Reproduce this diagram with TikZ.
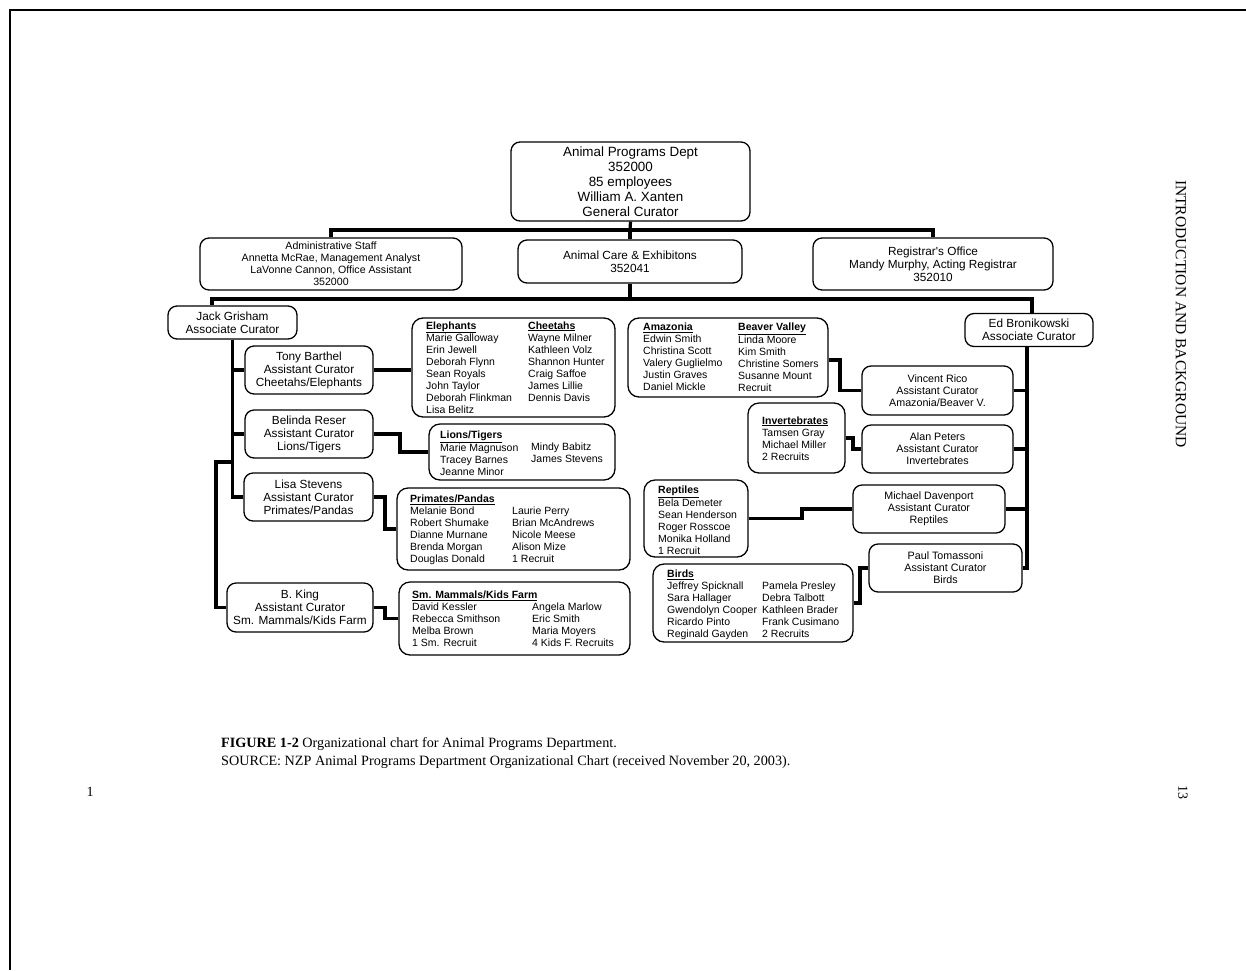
\documentclass[tikz,border=0pt]{standalone}
\usepackage{fontspec}
\setmainfont{Liberation Serif}
\newfontfamily\arialfont{Liberation Sans}
\newcommand{\teamfont}{\arialfont\fontsize{10.5}{12}\selectfont}
\newcommand{\hd}[1]{\underline{\textbf{#1}}}
\newcommand{\tcol}[1]{\begin{tabular}[t]{@{}l@{}}#1\end{tabular}}
\tikzset{
  orgbox/.style={draw, fill=white, line width=1.3pt, rounded corners=9pt, inner sep=0pt, align=center},
  teambox/.style={draw, fill=white, line width=1.3pt, rounded corners=11pt, inner sep=0pt},
  teamtext/.style={anchor=base west, inner sep=0pt, font=\teamfont},
  conn/.style={line width=3.2pt},
  fbig/.style={font=\arialfont\fontsize{13.4}{15}\selectfont},
  fmid/.style={font=\arialfont\fontsize{11.8}{13}\selectfont},
  fsml/.style={font=\arialfont\fontsize{10.7}{12}\selectfont},
}
\begin{document}
\begin{tikzpicture}[x=1pt,y=-1pt]
\useasboundingbox (0,0) rectangle (1246,970);
\fill[white] (0,0) rectangle (1246,970);
\draw[line width=2.5pt] (10,970) -- (10,10) -- (1246,10);

% coordinates for connector joints
\coordinate (j1) at (630,230);
\coordinate (j2) at (630,299);
\coordinate (kb) at (216,462);
\coordinate (lj) at (400,440);
\coordinate (pj) at (385,510);
\coordinate (mj) at (385,612);
\coordinate (aj) at (840,370);
\coordinate (ij) at (853,443);
\coordinate (rj) at (802,513);
\coordinate (bj) at (860,585);

% top levels
\node[orgbox, fbig, minimum width=239pt, minimum height=79pt] (top) at (630.5,181.5)
  {Animal Programs Dept\\352000\\85 employees\\William A. Xanten\\General Curator};
\node[orgbox, font=\arialfont\fontsize{10.6}{12}\selectfont, minimum width=262pt, minimum height=52pt] (admin) at (331,264)
  {Administrative Staff\\Annetta McRae, Management Analyst\\LaVonne Cannon, Office Assistant\\352000};
\node[orgbox, fmid, minimum width=224pt, minimum height=43pt] (care) at (630,261.5)
  {Animal Care \& Exhibitons\\352041};
\node[orgbox, fmid, minimum width=240pt, minimum height=52pt] (reg) at (933,264)
  {Registrar's Office\\Mandy Murphy, Acting Registrar\\352010};

% associate curators
\node[orgbox, fmid, minimum width=129pt, minimum height=33pt] (jack) at (232.5,322.5)
  {Jack Grisham\\Associate Curator};
\node[orgbox, fmid, minimum width=128pt, minimum height=33pt] (ed) at (1029,330)
  {Ed Bronikowski\\Associate Curator};

% assistant curators (left)
\node[orgbox, fmid, minimum width=128pt, minimum height=48pt] (tony) at (309,370)
  {Tony Barthel\\Assistant Curator\\Cheetahs/Elephants};
\node[orgbox, fmid, minimum width=128pt, minimum height=48pt] (bel) at (309,434)
  {Belinda Reser\\Assistant Curator\\Lions/Tigers};
\node[orgbox, fmid, minimum width=129pt, minimum height=48pt] (lisa) at (308.5,497)
  {Lisa Stevens\\Assistant Curator\\Primates/Pandas};
\node[orgbox, fmid, minimum width=146pt, minimum height=49pt] (king) at (300,607.5)
  {B. King\\Assistant Curator\\Sm. Mammals/Kids Farm};

% assistant curators (right)
\node[orgbox, fsml, minimum width=151pt, minimum height=49pt] (vin) at (937.5,390.5)
  {Vincent Rico\\Assistant Curator\\Amazonia/Beaver V.};
\node[orgbox, fsml, minimum width=151pt, minimum height=48pt] (alan) at (937.5,449)
  {Alan Peters\\Assistant Curator\\Invertebrates};
\node[orgbox, fsml, minimum width=152pt, minimum height=48pt] (mike) at (929,509)
  {Michael Davenport\\Assistant Curator\\Reptiles};
\node[orgbox, fsml, minimum width=153pt, minimum height=48pt] (paul) at (945.5,568)
  {Paul Tomassoni\\Assistant Curator\\Birds};

% team boxes
\node[teambox, minimum width=203pt, minimum height=99pt] (ele) at (513.5,367.5) {};
\node[teambox, minimum width=186pt, minimum height=56pt] (lions) at (522,452) {};
\node[teambox, minimum width=233pt, minimum height=82pt] (prim) at (513.5,529) {};
\node[teambox, minimum width=231pt, minimum height=73pt] (mam) at (514.5,618.5) {};
\node[teambox, minimum width=200pt, minimum height=79pt] (amaz) at (728,357.5) {};
\node[teambox, minimum width=97pt, minimum height=70pt] (inv) at (796.5,438) {};
\node[teambox, minimum width=104pt, minimum height=77pt] (rep) at (696,518.5) {};
\node[teambox, minimum width=200pt, minimum height=78pt] (birds) at (753,603) {};

% team texts
\node[teamtext] (ele-l) at (426,329) {\tcol{\hd{Elephants}\\Marie Galloway\\Erin Jewell\\Deborah Flynn\\Sean Royals\\John Taylor\\Deborah Flinkman\\Lisa Belitz}};
\node[teamtext] (ele-r) at (528,329) {\tcol{\hd{Cheetahs}\\Wayne Milner\\Kathleen Volz\\Shannon Hunter\\Craig Saffoe\\James Lillie\\Dennis Davis}};
\node[teamtext] (lions-l) at (440,438.5) {\tcol{\hd{Lions/Tigers}\\Marie Magnuson\\Tracey Barnes\\Jeanne Minor}};
\node[teamtext] (lions-r) at (531,450.5) {\tcol{Mindy Babitz\\James Stevens}};
\node[teamtext] (prim-l) at (410,502.5) {\tcol{\hd{Primates/Pandas}\\Melanie Bond\\Robert Shumake\\Dianne Murnane\\Brenda Morgan\\Douglas Donald}};
\node[teamtext] (prim-r) at (512,514.5) {\tcol{Laurie Perry\\Brian McAndrews\\Nicole Meese\\Alison Mize\\1 Recruit}};
\node[teamtext] (mam-l) at (412,598.5) {\tcol{\hd{Sm. Mammals/Kids Farm}\\David Kessler\\Rebecca Smithson\\Melba Brown\\1 Sm. Recruit}};
\node[teamtext] (mam-r) at (532,610.5) {\tcol{Angela Marlow\\Eric Smith\\Maria Moyers\\4 Kids F. Recruits}};
\node[teamtext] (amaz-l) at (643,330.5) {\tcol{\hd{Amazonia}\\Edwin Smith\\Christina Scott\\Valery Guglielmo\\Justin Graves\\Daniel Mickle}};
\node[teamtext] (amaz-r) at (738,330.5) {\tcol{\hd{Beaver Valley}\\Linda Moore\\Kim Smith\\Christine Somers\\Susanne Mount\\Recruit}};
\node[teamtext] (inv-t) at (762,424) {\tcol{\hd{Invertebrates}\\Tamsen Gray\\Michael Miller\\2 Recruits}};
\node[teamtext] (rep-t) at (658,493.5) {\tcol{\hd{Reptiles}\\Bela Demeter\\Sean Henderson\\Roger Rosscoe\\Monika Holland\\1 Recruit}};
\node[teamtext] (birds-l) at (667,577.5) {\tcol{\hd{Birds}\\Jeffrey Spicknall\\Sara Hallager\\Gwendolyn Cooper\\Ricardo Pinto\\Reginald Gayden}};
\node[teamtext] (birds-r) at (762,589.5) {\tcol{Pamela Presley\\Debra Talbott\\Kathleen Brader\\Frank Cusimano\\2 Recruits}};

% connectors between named nodes
\draw[conn] (top.south) -- (j1);
\draw[conn] (admin.north) |- (j1) -| (reg.north);
\draw[conn] (j1) -- (care.north);
\draw[conn] (care.south) -- (j2);
\draw[conn] ([xshift=-20.5pt]jack.north) |- (j2) -| ([xshift=3pt]ed.north);
\draw[conn] (jack.south) |- (lisa.west);
\draw[conn] (jack.south |- tony.west) -- (tony.west);
\draw[conn] (jack.south |- bel.west) -- (bel.west);
\draw[conn] (jack.south |- kb) -- (kb) |- (king.west);
\draw[conn] (tony.east) -- (tony.east -| ele.west);
\draw[conn] (bel.east) -| (lj) |- (lions.west);
\draw[conn] (lisa.east) -| (pj) |- (prim.west);
\draw[conn] (king.east) -| (mj) |- (mam.west);
\draw[conn] ([yshift=-2.5pt]amaz.east) -| (aj) |- (vin.west);
\draw[conn] (inv.east) -| (ij) |- (alan.west);
\draw[conn] (rep.east) -| (rj) |- (mike.west);
\draw[conn] (birds.east) -| (bj) |- (paul.west);
\draw[conn] ([xshift=-2pt]ed.south) |- (paul.east);
\draw[conn] ([xshift=-2pt]ed.south |- vin.east) -- (vin.east);
\draw[conn] ([xshift=-2pt]ed.south |- alan.east) -- (alan.east);
\draw[conn] ([xshift=-2pt]ed.south |- mike.east) -- (mike.east);

% caption and page furniture
\node[anchor=base west, inner sep=0pt, font=\fontsize{14.2}{16}\selectfont] (cap1) at (221,747.5)
  {\textbf{FIGURE 1-2} Organizational chart for Animal Programs Department.};
\node[anchor=base west, inner sep=0pt, font=\fontsize{14.2}{16}\selectfont] (cap2) at (221,765)
  {SOURCE: NZP Animal Programs Department Organizational Chart (received November 20, 2003).};
\node[inner sep=0pt, font=\fontsize{14}{16}\selectfont] (pg1) at (90,792) {1};
\node[inner sep=0pt, rotate=-90, font=\fontsize{14}{16}\selectfont] (pg13) at (1183,792) {13};
\node[inner sep=0pt, rotate=-90, font=\fontsize{15.5}{18}\selectfont] (side) at (1181,314)
  {INTRODUCTION AND BACKGROUND};
\end{tikzpicture}
\end{document}
